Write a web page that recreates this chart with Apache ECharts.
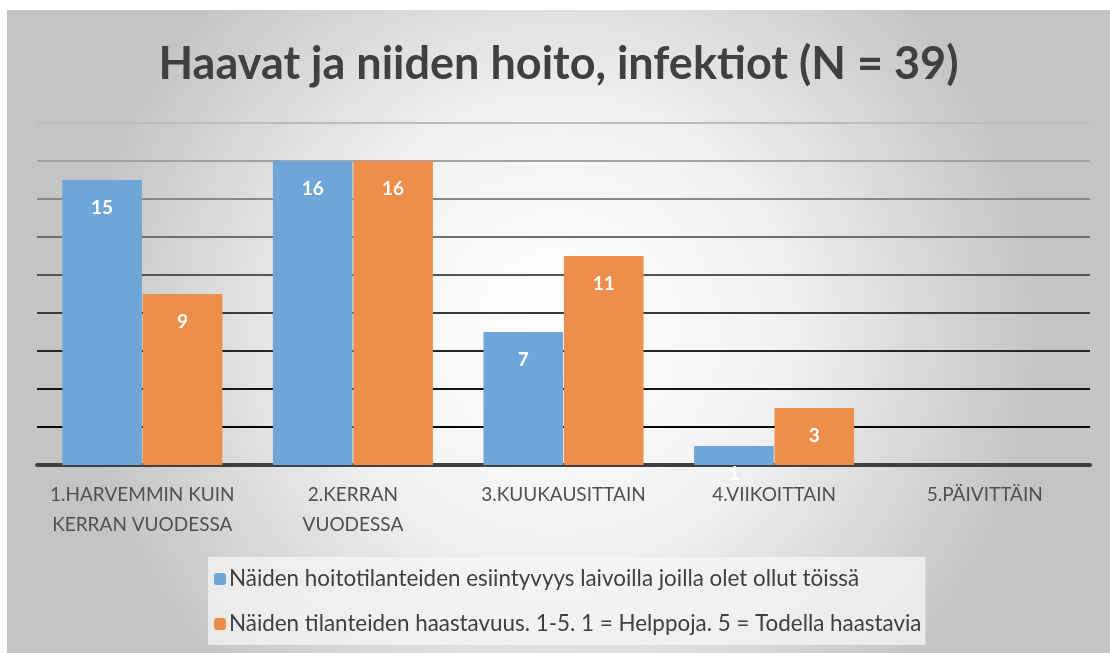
<!DOCTYPE html>
<html>
<head>
<meta charset="utf-8">
<script src="https://cdn.jsdelivr.net/npm/echarts@6/dist/echarts.min.js"></script>
<style>
  html, body { margin: 0; padding: 0; background: #ffffff; width: 1110px; height: 653px; overflow: hidden; }
  #chart { position: absolute; left: 7px; top: 10px; width: 1103px; height: 643px; }
</style>
</head>
<body>
<div id="chart"></div>
<script>
const titleText = 'Haavat ja niiden hoito, infektiot (N = 39)';
const categories = [
  '1.HARVEMMIN KUIN\nKERRAN VUODESSA',
  '2.KERRAN\nVUODESSA',
  '3.KUUKAUSITTAIN',
  '4.VIIKOITTAIN',
  '5.PÄIVITTÄIN'
];
const seriesNames = [
  'Näiden hoitotilanteiden esiintyvyys laivoilla joilla olet ollut töissä',
  'Näiden tilanteiden haastavuus. 1-5. 1 = Helppoja. 5 = Todella haastavia'
];
const occurrence = [15, 16, 7, 1, 0];
const challenge = [9, 16, 11, 3, 0];

const FONT = 'Lato';
const chart = echarts.init(document.getElementById('chart'));

const labelCfg = {
  show: true,
  position: 'insideTop',
  distance: 18,
  color: '#ffffff',
  fontFamily: FONT,
  fontWeight: 'bold',
  fontSize: 19,
  formatter: p => (p.value === 0 ? '' : String(p.value))
};

chart.setOption({
  backgroundColor: {
    type: 'radial', x: 0.5, y: 0.5, r: 0.75,
    colorStops: [
      { offset: 0, color: '#ffffff' },
      { offset: 0.45, color: '#f2f2f2' },
      { offset: 1, color: '#c4c4c4' }
    ]
  },
  title: {
    text: titleText,
    left: 'center',
    top: 27,
    textStyle: { fontFamily: FONT, fontWeight: 'bold', fontSize: 45, color: '#404040' }
  },
  grid: { left: 30, right: 20, top: 113, bottom: 188, containLabel: false },
  legend: {
    orient: 'vertical',
    left: 201,
    top: 547,
    itemWidth: 12,
    itemHeight: 12,
    itemGap: 23,
    padding: [11, 4, 10, 6],
    backgroundColor: 'rgba(245,245,245,0.75)',
    textStyle: { fontFamily: FONT, fontSize: 22.4, color: '#404040', padding: [0, 0, 0, -2] },
    data: seriesNames
  },
  xAxis: {
    type: 'category',
    data: categories,
    axisTick: { show: false },
    axisLine: { show: true, lineStyle: { color: '#404040', width: 4 } },
    axisLabel: {
      margin: 15,
      fontFamily: FONT,
      fontSize: 19,
      lineHeight: 30,
      color: '#505050',
      interval: 0
    }
  },
  yAxis: {
    type: 'value',
    min: 0,
    max: 18,
    interval: 2,
    axisLabel: { show: false },
    axisLine: { show: false },
    axisTick: { show: false },
    splitLine: {
      show: true,
      lineStyle: {
        width: 2,
        color: ['#404040', '#050505', '#151515', '#262626', '#3a3a3a', '#555555', '#6e6e6e', '#888888', '#a2a2a2', '#bcbcbc']
      }
    }
  },
  series: [
    {
      name: seriesNames[0],
      type: 'bar',
      data: occurrence,
      barGap: '1%',
      barCategoryGap: '24%',
      itemStyle: { color: '#6fa6da' },
      label: labelCfg,
      z: 3
    },
    {
      name: seriesNames[1],
      type: 'bar',
      data: challenge,
      barGap: '1%',
      barCategoryGap: '24%',
      itemStyle: { color: '#ee8e4c' },
      label: labelCfg,
      z: 3
    }
  ]
});
</script>
</body>
</html>
